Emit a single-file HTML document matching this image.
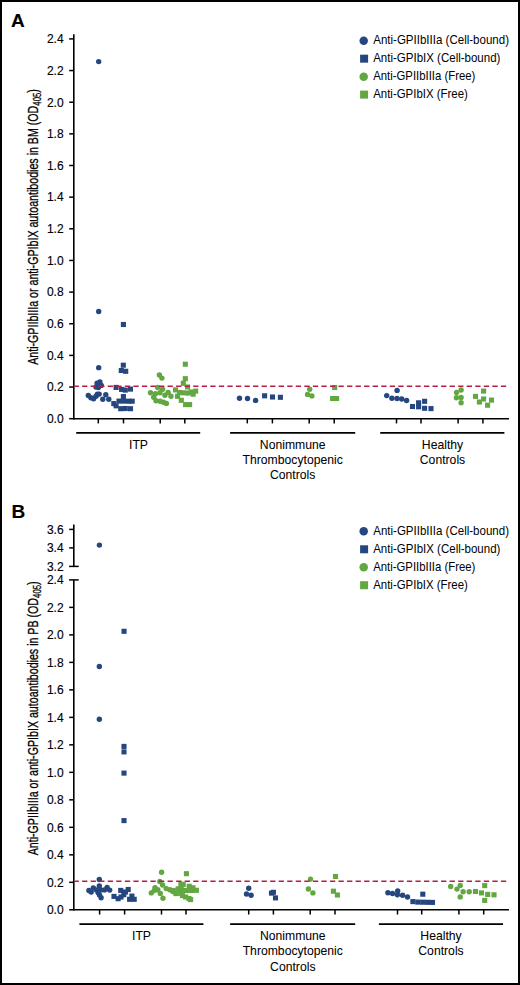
<!DOCTYPE html>
<html><head><meta charset="utf-8"><style>
html,body{margin:0;padding:0;background:#fff;}
svg{display:block;}
text{font-family:"Liberation Sans", sans-serif;fill:#000;stroke:#000;stroke-width:0.15px;}
</style></head><body>
<svg width="520" height="985" viewBox="0 0 520 985">
<rect x="1" y="1" width="518" height="983" fill="#fff" stroke="#000" stroke-width="2"/>

<text x="11" y="26.9" font-size="19" font-weight="bold" fill="#000">A</text>
<text x="11.6" y="517.8" font-size="19" font-weight="bold" fill="#000">B</text>
<line x1="73.8" y1="34.3" x2="73.8" y2="419.4" stroke="#000" stroke-width="1.6"/>
<line x1="69.2" y1="418.70" x2="73.8" y2="418.70" stroke="#000" stroke-width="1.5"/>
<text x="63.6" y="423.00" font-size="12" text-anchor="end">0.0</text>
<line x1="69.2" y1="387.05" x2="73.8" y2="387.05" stroke="#000" stroke-width="1.5"/>
<text x="63.6" y="391.35" font-size="12" text-anchor="end">0.2</text>
<line x1="69.2" y1="355.40" x2="73.8" y2="355.40" stroke="#000" stroke-width="1.5"/>
<text x="63.6" y="359.70" font-size="12" text-anchor="end">0.4</text>
<line x1="69.2" y1="323.75" x2="73.8" y2="323.75" stroke="#000" stroke-width="1.5"/>
<text x="63.6" y="328.05" font-size="12" text-anchor="end">0.6</text>
<line x1="69.2" y1="292.10" x2="73.8" y2="292.10" stroke="#000" stroke-width="1.5"/>
<text x="63.6" y="296.40" font-size="12" text-anchor="end">0.8</text>
<line x1="69.2" y1="260.45" x2="73.8" y2="260.45" stroke="#000" stroke-width="1.5"/>
<text x="63.6" y="264.75" font-size="12" text-anchor="end">1.0</text>
<line x1="69.2" y1="228.80" x2="73.8" y2="228.80" stroke="#000" stroke-width="1.5"/>
<text x="63.6" y="233.10" font-size="12" text-anchor="end">1.2</text>
<line x1="69.2" y1="197.15" x2="73.8" y2="197.15" stroke="#000" stroke-width="1.5"/>
<text x="63.6" y="201.45" font-size="12" text-anchor="end">1.4</text>
<line x1="69.2" y1="165.50" x2="73.8" y2="165.50" stroke="#000" stroke-width="1.5"/>
<text x="63.6" y="169.80" font-size="12" text-anchor="end">1.6</text>
<line x1="69.2" y1="133.85" x2="73.8" y2="133.85" stroke="#000" stroke-width="1.5"/>
<text x="63.6" y="138.15" font-size="12" text-anchor="end">1.8</text>
<line x1="69.2" y1="102.20" x2="73.8" y2="102.20" stroke="#000" stroke-width="1.5"/>
<text x="63.6" y="106.50" font-size="12" text-anchor="end">2.0</text>
<line x1="69.2" y1="70.55" x2="73.8" y2="70.55" stroke="#000" stroke-width="1.5"/>
<text x="63.6" y="74.85" font-size="12" text-anchor="end">2.2</text>
<line x1="69.2" y1="38.90" x2="73.8" y2="38.90" stroke="#000" stroke-width="1.5"/>
<text x="63.6" y="43.20" font-size="12" text-anchor="end">2.4</text>
<line x1="73.8" y1="418.7" x2="509" y2="418.7" stroke="#000" stroke-width="1.6"/>
<line x1="98.3" y1="418.7" x2="98.3" y2="423.4" stroke="#000" stroke-width="1.5"/>
<line x1="123.5" y1="418.7" x2="123.5" y2="423.4" stroke="#000" stroke-width="1.5"/>
<line x1="160.2" y1="418.7" x2="160.2" y2="423.4" stroke="#000" stroke-width="1.5"/>
<line x1="184.8" y1="418.7" x2="184.8" y2="423.4" stroke="#000" stroke-width="1.5"/>
<line x1="247.3" y1="418.7" x2="247.3" y2="423.4" stroke="#000" stroke-width="1.5"/>
<line x1="272.4" y1="418.7" x2="272.4" y2="423.4" stroke="#000" stroke-width="1.5"/>
<line x1="309.2" y1="418.7" x2="309.2" y2="423.4" stroke="#000" stroke-width="1.5"/>
<line x1="334.2" y1="418.7" x2="334.2" y2="423.4" stroke="#000" stroke-width="1.5"/>
<line x1="396.5" y1="418.7" x2="396.5" y2="423.4" stroke="#000" stroke-width="1.5"/>
<line x1="421" y1="418.7" x2="421" y2="423.4" stroke="#000" stroke-width="1.5"/>
<line x1="458.1" y1="418.7" x2="458.1" y2="423.4" stroke="#000" stroke-width="1.5"/>
<line x1="482.9" y1="418.7" x2="482.9" y2="423.4" stroke="#000" stroke-width="1.5"/>
<line x1="76.2" y1="432.9" x2="200.2" y2="432.9" stroke="#000" stroke-width="1.6"/>
<line x1="230.1" y1="432.9" x2="355.2" y2="432.9" stroke="#000" stroke-width="1.6"/>
<line x1="380.2" y1="432.9" x2="504.4" y2="432.9" stroke="#000" stroke-width="1.6"/>
<text x="138.5" y="448.9" font-size="12.2" text-anchor="middle" style="stroke-width:0.05px">ITP</text>
<text x="292.7" y="448.9" font-size="12.2" text-anchor="middle" style="stroke-width:0.05px">Nonimmune</text>
<text x="292.7" y="464.00" font-size="12.2" text-anchor="middle" style="stroke-width:0.05px">Thrombocytopenic</text>
<text x="292.7" y="479.10" font-size="12.2" text-anchor="middle" style="stroke-width:0.05px">Controls</text>
<text x="442.5" y="448.9" font-size="12.2" text-anchor="middle" style="stroke-width:0.05px">Healthy</text>
<text x="442.5" y="464.00" font-size="12.2" text-anchor="middle" style="stroke-width:0.05px">Controls</text>
<circle cx="363.7" cy="40.70" r="4.25" fill="#264680"/>
<text x="373.2" y="44.10" font-size="12.1" textLength="135.8" lengthAdjust="spacingAndGlyphs" style="stroke-width:0">Anti-GPIIbIIIa (Cell-bound)</text>
<rect x="360.1" y="54.67" width="8" height="8" fill="#264680"/>
<text x="373.2" y="62.07" font-size="12.1" textLength="127.2" lengthAdjust="spacingAndGlyphs" style="stroke-width:0">Anti-GPIbIX (Cell-bound)</text>
<circle cx="363.7" cy="76.64" r="4.25" fill="#62a741"/>
<text x="373.2" y="80.04" font-size="12.1" textLength="102.2" lengthAdjust="spacingAndGlyphs" style="stroke-width:0">Anti-GPIIbIIIa (Free)</text>
<rect x="360.1" y="90.61" width="8" height="8" fill="#62a741"/>
<text x="373.2" y="98.01" font-size="12.1" textLength="94.7" lengthAdjust="spacingAndGlyphs" style="stroke-width:0">Anti-GPIbIX (Free)</text>
<text transform="translate(37.6,364.8) rotate(-90) scale(0.71,1)" font-size="15" style="stroke-width:0.3px">Anti-GPIIbIIIa or anti-GPIbIX autoantibodies in BM (OD<tspan font-size="11" dy="3">405</tspan><tspan dy="-3">)</tspan></text>
<line x1="73.8" y1="524.6" x2="73.8" y2="566.4" stroke="#000" stroke-width="1.6"/>
<line x1="69.1" y1="566.4" x2="78.7" y2="566.4" stroke="#000" stroke-width="1.5"/>
<line x1="69.2" y1="529.40" x2="73.8" y2="529.40" stroke="#000" stroke-width="1.5"/>
<text x="63.6" y="533.70" font-size="12" text-anchor="end">3.6</text>
<line x1="69.2" y1="547.90" x2="73.8" y2="547.90" stroke="#000" stroke-width="1.5"/>
<text x="63.6" y="552.20" font-size="12" text-anchor="end">3.4</text>
<text x="63.6" y="570.70" font-size="12" text-anchor="end">3.2</text>
<line x1="73.8" y1="579.9" x2="73.8" y2="910.5" stroke="#000" stroke-width="1.6"/>
<line x1="69.1" y1="579.9" x2="78.7" y2="579.9" stroke="#000" stroke-width="1.5"/>
<line x1="69.2" y1="909.80" x2="73.8" y2="909.80" stroke="#000" stroke-width="1.5"/>
<text x="63.6" y="914.10" font-size="12" text-anchor="end">0.0</text>
<line x1="69.2" y1="882.31" x2="73.8" y2="882.31" stroke="#000" stroke-width="1.5"/>
<text x="63.6" y="886.61" font-size="12" text-anchor="end">0.2</text>
<line x1="69.2" y1="854.82" x2="73.8" y2="854.82" stroke="#000" stroke-width="1.5"/>
<text x="63.6" y="859.12" font-size="12" text-anchor="end">0.4</text>
<line x1="69.2" y1="827.32" x2="73.8" y2="827.32" stroke="#000" stroke-width="1.5"/>
<text x="63.6" y="831.62" font-size="12" text-anchor="end">0.6</text>
<line x1="69.2" y1="799.83" x2="73.8" y2="799.83" stroke="#000" stroke-width="1.5"/>
<text x="63.6" y="804.13" font-size="12" text-anchor="end">0.8</text>
<line x1="69.2" y1="772.34" x2="73.8" y2="772.34" stroke="#000" stroke-width="1.5"/>
<text x="63.6" y="776.64" font-size="12" text-anchor="end">1.0</text>
<line x1="69.2" y1="744.85" x2="73.8" y2="744.85" stroke="#000" stroke-width="1.5"/>
<text x="63.6" y="749.15" font-size="12" text-anchor="end">1.2</text>
<line x1="69.2" y1="717.36" x2="73.8" y2="717.36" stroke="#000" stroke-width="1.5"/>
<text x="63.6" y="721.66" font-size="12" text-anchor="end">1.4</text>
<line x1="69.2" y1="689.86" x2="73.8" y2="689.86" stroke="#000" stroke-width="1.5"/>
<text x="63.6" y="694.16" font-size="12" text-anchor="end">1.6</text>
<line x1="69.2" y1="662.37" x2="73.8" y2="662.37" stroke="#000" stroke-width="1.5"/>
<text x="63.6" y="666.67" font-size="12" text-anchor="end">1.8</text>
<line x1="69.2" y1="634.88" x2="73.8" y2="634.88" stroke="#000" stroke-width="1.5"/>
<text x="63.6" y="639.18" font-size="12" text-anchor="end">2.0</text>
<line x1="69.2" y1="607.39" x2="73.8" y2="607.39" stroke="#000" stroke-width="1.5"/>
<text x="63.6" y="611.69" font-size="12" text-anchor="end">2.2</text>
<text x="63.6" y="584.20" font-size="12" text-anchor="end">2.4</text>
<line x1="73.8" y1="909.8" x2="509" y2="909.8" stroke="#000" stroke-width="1.6"/>
<line x1="99.6" y1="909.8" x2="99.6" y2="914.5" stroke="#000" stroke-width="1.5"/>
<line x1="124.6" y1="909.8" x2="124.6" y2="914.5" stroke="#000" stroke-width="1.5"/>
<line x1="161.5" y1="909.8" x2="161.5" y2="914.5" stroke="#000" stroke-width="1.5"/>
<line x1="186" y1="909.8" x2="186" y2="914.5" stroke="#000" stroke-width="1.5"/>
<line x1="248.7" y1="909.8" x2="248.7" y2="914.5" stroke="#000" stroke-width="1.5"/>
<line x1="273.4" y1="909.8" x2="273.4" y2="914.5" stroke="#000" stroke-width="1.5"/>
<line x1="310.2" y1="909.8" x2="310.2" y2="914.5" stroke="#000" stroke-width="1.5"/>
<line x1="335" y1="909.8" x2="335" y2="914.5" stroke="#000" stroke-width="1.5"/>
<line x1="397.5" y1="909.8" x2="397.5" y2="914.5" stroke="#000" stroke-width="1.5"/>
<line x1="421.7" y1="909.8" x2="421.7" y2="914.5" stroke="#000" stroke-width="1.5"/>
<line x1="458.9" y1="909.8" x2="458.9" y2="914.5" stroke="#000" stroke-width="1.5"/>
<line x1="483.7" y1="909.8" x2="483.7" y2="914.5" stroke="#000" stroke-width="1.5"/>
<line x1="79.4" y1="924.1" x2="203.4" y2="924.1" stroke="#000" stroke-width="1.6"/>
<line x1="230.1" y1="924.1" x2="355.2" y2="924.1" stroke="#000" stroke-width="1.6"/>
<line x1="378.9" y1="924.1" x2="503" y2="924.1" stroke="#000" stroke-width="1.6"/>
<text x="141.5" y="940.1" font-size="12.2" text-anchor="middle" style="stroke-width:0.05px">ITP</text>
<text x="292.8" y="940.1" font-size="12.2" text-anchor="middle" style="stroke-width:0.05px">Nonimmune</text>
<text x="292.8" y="955.40" font-size="12.2" text-anchor="middle" style="stroke-width:0.05px">Thrombocytopenic</text>
<text x="292.8" y="970.70" font-size="12.2" text-anchor="middle" style="stroke-width:0.05px">Controls</text>
<text x="441.0" y="940.1" font-size="12.2" text-anchor="middle" style="stroke-width:0.05px">Healthy</text>
<text x="441.0" y="955.40" font-size="12.2" text-anchor="middle" style="stroke-width:0.05px">Controls</text>
<circle cx="363.7" cy="531.30" r="4.25" fill="#264680"/>
<text x="373.2" y="534.70" font-size="12.1" textLength="135.8" lengthAdjust="spacingAndGlyphs" style="stroke-width:0">Anti-GPIIbIIIa (Cell-bound)</text>
<rect x="360.1" y="545.27" width="8" height="8" fill="#264680"/>
<text x="373.2" y="552.67" font-size="12.1" textLength="127.2" lengthAdjust="spacingAndGlyphs" style="stroke-width:0">Anti-GPIbIX (Cell-bound)</text>
<circle cx="363.7" cy="567.24" r="4.25" fill="#62a741"/>
<text x="373.2" y="570.64" font-size="12.1" textLength="102.2" lengthAdjust="spacingAndGlyphs" style="stroke-width:0">Anti-GPIIbIIIa (Free)</text>
<rect x="360.1" y="581.21" width="8" height="8" fill="#62a741"/>
<text x="373.2" y="588.61" font-size="12.1" textLength="94.7" lengthAdjust="spacingAndGlyphs" style="stroke-width:0">Anti-GPIbIX (Free)</text>
<text transform="translate(37.6,855.3) rotate(-90) scale(0.71,1)" font-size="15" style="stroke-width:0.3px">Anti-GPIIbIIIa or anti-GPIbIX autoantibodies in PB (OD<tspan font-size="11" dy="3">405</tspan><tspan dy="-3">)</tspan></text>
<g>
<circle cx="159.40" cy="375.00" r="2.7" fill="#62a741"/>
<circle cx="161.90" cy="378.10" r="2.7" fill="#62a741"/>
<circle cx="157.70" cy="387.50" r="2.7" fill="#62a741"/>
<circle cx="162.60" cy="389.20" r="2.7" fill="#62a741"/>
<circle cx="150.50" cy="392.70" r="2.7" fill="#62a741"/>
<circle cx="155.40" cy="393.80" r="2.7" fill="#62a741"/>
<circle cx="160.00" cy="392.70" r="2.7" fill="#62a741"/>
<circle cx="164.90" cy="395.30" r="2.7" fill="#62a741"/>
<circle cx="168.10" cy="392.40" r="2.7" fill="#62a741"/>
<circle cx="171.00" cy="396.20" r="2.7" fill="#62a741"/>
<circle cx="153.70" cy="397.30" r="2.7" fill="#62a741"/>
<circle cx="156.00" cy="400.80" r="2.7" fill="#62a741"/>
<circle cx="160.00" cy="401.30" r="2.7" fill="#62a741"/>
<circle cx="163.50" cy="402.20" r="2.7" fill="#62a741"/>
<circle cx="166.40" cy="403.40" r="2.7" fill="#62a741"/>
<circle cx="309.70" cy="389.30" r="2.7" fill="#62a741"/>
<circle cx="307.60" cy="394.40" r="2.7" fill="#62a741"/>
<circle cx="311.90" cy="395.90" r="2.7" fill="#62a741"/>
<circle cx="461.10" cy="390.00" r="2.7" fill="#62a741"/>
<circle cx="456.60" cy="392.40" r="2.7" fill="#62a741"/>
<circle cx="456.40" cy="397.80" r="2.7" fill="#62a741"/>
<circle cx="461.10" cy="397.50" r="2.7" fill="#62a741"/>
<circle cx="461.10" cy="402.70" r="2.7" fill="#62a741"/>
<circle cx="161.60" cy="872.20" r="2.7" fill="#62a741"/>
<circle cx="159.80" cy="881.50" r="2.7" fill="#62a741"/>
<circle cx="162.60" cy="885.00" r="2.7" fill="#62a741"/>
<circle cx="155.00" cy="887.60" r="2.7" fill="#62a741"/>
<circle cx="157.80" cy="889.80" r="2.7" fill="#62a741"/>
<circle cx="160.30" cy="893.40" r="2.7" fill="#62a741"/>
<circle cx="163.00" cy="898.20" r="2.7" fill="#62a741"/>
<circle cx="151.30" cy="892.90" r="2.7" fill="#62a741"/>
<circle cx="154.20" cy="890.60" r="2.7" fill="#62a741"/>
<circle cx="166.20" cy="888.60" r="2.7" fill="#62a741"/>
<circle cx="169.80" cy="889.80" r="2.7" fill="#62a741"/>
<circle cx="172.80" cy="891.60" r="2.7" fill="#62a741"/>
<circle cx="310.50" cy="879.10" r="2.7" fill="#62a741"/>
<circle cx="308.40" cy="889.00" r="2.7" fill="#62a741"/>
<circle cx="312.90" cy="892.90" r="2.7" fill="#62a741"/>
<circle cx="450.70" cy="886.50" r="2.7" fill="#62a741"/>
<circle cx="460.20" cy="885.40" r="2.7" fill="#62a741"/>
<circle cx="457.00" cy="889.10" r="2.7" fill="#62a741"/>
<circle cx="463.10" cy="891.70" r="2.7" fill="#62a741"/>
<circle cx="469.20" cy="891.70" r="2.7" fill="#62a741"/>
<circle cx="460.20" cy="896.90" r="2.7" fill="#62a741"/>
<rect x="182.75" y="361.65" width="5.1" height="5.1" fill="#62a741"/>
<rect x="182.75" y="376.15" width="5.1" height="5.1" fill="#62a741"/>
<rect x="180.75" y="380.75" width="5.1" height="5.1" fill="#62a741"/>
<rect x="185.05" y="384.45" width="5.1" height="5.1" fill="#62a741"/>
<rect x="172.95" y="387.35" width="5.1" height="5.1" fill="#62a741"/>
<rect x="176.95" y="389.95" width="5.1" height="5.1" fill="#62a741"/>
<rect x="180.75" y="390.25" width="5.1" height="5.1" fill="#62a741"/>
<rect x="185.35" y="390.55" width="5.1" height="5.1" fill="#62a741"/>
<rect x="193.15" y="388.55" width="5.1" height="5.1" fill="#62a741"/>
<rect x="190.55" y="391.65" width="5.1" height="5.1" fill="#62a741"/>
<rect x="188.45" y="389.45" width="5.1" height="5.1" fill="#62a741"/>
<rect x="174.95" y="393.75" width="5.1" height="5.1" fill="#62a741"/>
<rect x="178.75" y="397.75" width="5.1" height="5.1" fill="#62a741"/>
<rect x="183.05" y="402.05" width="5.1" height="5.1" fill="#62a741"/>
<rect x="187.05" y="402.05" width="5.1" height="5.1" fill="#62a741"/>
<rect x="332.15" y="384.95" width="5.1" height="5.1" fill="#62a741"/>
<rect x="330.05" y="395.95" width="5.1" height="5.1" fill="#62a741"/>
<rect x="334.05" y="395.95" width="5.1" height="5.1" fill="#62a741"/>
<rect x="481.05" y="388.55" width="5.1" height="5.1" fill="#62a741"/>
<rect x="472.95" y="393.85" width="5.1" height="5.1" fill="#62a741"/>
<rect x="481.05" y="396.45" width="5.1" height="5.1" fill="#62a741"/>
<rect x="488.95" y="397.55" width="5.1" height="5.1" fill="#62a741"/>
<rect x="476.85" y="399.45" width="5.1" height="5.1" fill="#62a741"/>
<rect x="485.05" y="402.65" width="5.1" height="5.1" fill="#62a741"/>
<rect x="183.85" y="871.15" width="5.1" height="5.1" fill="#62a741"/>
<rect x="178.35" y="881.65" width="5.1" height="5.1" fill="#62a741"/>
<rect x="180.65" y="881.95" width="5.1" height="5.1" fill="#62a741"/>
<rect x="175.65" y="886.25" width="5.1" height="5.1" fill="#62a741"/>
<rect x="178.65" y="885.95" width="5.1" height="5.1" fill="#62a741"/>
<rect x="186.65" y="883.75" width="5.1" height="5.1" fill="#62a741"/>
<rect x="190.45" y="885.25" width="5.1" height="5.1" fill="#62a741"/>
<rect x="193.85" y="887.75" width="5.1" height="5.1" fill="#62a741"/>
<rect x="182.45" y="887.95" width="5.1" height="5.1" fill="#62a741"/>
<rect x="185.95" y="887.95" width="5.1" height="5.1" fill="#62a741"/>
<rect x="189.45" y="887.95" width="5.1" height="5.1" fill="#62a741"/>
<rect x="170.75" y="887.85" width="5.1" height="5.1" fill="#62a741"/>
<rect x="173.35" y="891.05" width="5.1" height="5.1" fill="#62a741"/>
<rect x="178.05" y="890.75" width="5.1" height="5.1" fill="#62a741"/>
<rect x="179.85" y="893.05" width="5.1" height="5.1" fill="#62a741"/>
<rect x="183.05" y="894.45" width="5.1" height="5.1" fill="#62a741"/>
<rect x="186.45" y="895.95" width="5.1" height="5.1" fill="#62a741"/>
<rect x="188.05" y="897.05" width="5.1" height="5.1" fill="#62a741"/>
<rect x="332.95" y="873.95" width="5.1" height="5.1" fill="#62a741"/>
<rect x="330.85" y="888.65" width="5.1" height="5.1" fill="#62a741"/>
<rect x="334.85" y="892.45" width="5.1" height="5.1" fill="#62a741"/>
<rect x="472.95" y="888.95" width="5.1" height="5.1" fill="#62a741"/>
<rect x="478.95" y="890.35" width="5.1" height="5.1" fill="#62a741"/>
<rect x="482.15" y="883.05" width="5.1" height="5.1" fill="#62a741"/>
<rect x="485.15" y="891.85" width="5.1" height="5.1" fill="#62a741"/>
<rect x="491.45" y="892.25" width="5.1" height="5.1" fill="#62a741"/>
<rect x="482.15" y="897.85" width="5.1" height="5.1" fill="#62a741"/>
<circle cx="98.70" cy="61.60" r="2.7" fill="#264680"/>
<circle cx="98.70" cy="311.50" r="2.7" fill="#264680"/>
<circle cx="98.70" cy="367.65" r="2.7" fill="#264680"/>
<circle cx="99.90" cy="381.90" r="2.7" fill="#264680"/>
<circle cx="97.10" cy="383.10" r="2.7" fill="#264680"/>
<circle cx="101.30" cy="385.40" r="2.7" fill="#264680"/>
<circle cx="96.00" cy="387.00" r="2.7" fill="#264680"/>
<circle cx="98.40" cy="387.50" r="2.7" fill="#264680"/>
<circle cx="88.30" cy="395.50" r="2.7" fill="#264680"/>
<circle cx="90.90" cy="397.70" r="2.7" fill="#264680"/>
<circle cx="93.60" cy="398.70" r="2.7" fill="#264680"/>
<circle cx="96.00" cy="396.30" r="2.7" fill="#264680"/>
<circle cx="97.40" cy="394.30" r="2.7" fill="#264680"/>
<circle cx="99.20" cy="394.10" r="2.7" fill="#264680"/>
<circle cx="105.80" cy="394.80" r="2.7" fill="#264680"/>
<circle cx="102.80" cy="399.20" r="2.7" fill="#264680"/>
<circle cx="108.80" cy="399.20" r="2.7" fill="#264680"/>
<circle cx="239.50" cy="398.30" r="2.7" fill="#264680"/>
<circle cx="247.50" cy="398.50" r="2.7" fill="#264680"/>
<circle cx="255.60" cy="400.40" r="2.7" fill="#264680"/>
<circle cx="397.10" cy="390.40" r="2.7" fill="#264680"/>
<circle cx="386.70" cy="395.60" r="2.7" fill="#264680"/>
<circle cx="391.90" cy="398.20" r="2.7" fill="#264680"/>
<circle cx="397.00" cy="398.50" r="2.7" fill="#264680"/>
<circle cx="401.70" cy="399.00" r="2.7" fill="#264680"/>
<circle cx="406.60" cy="400.50" r="2.7" fill="#264680"/>
<circle cx="99.40" cy="545.10" r="2.7" fill="#264680"/>
<circle cx="99.35" cy="666.50" r="2.7" fill="#264680"/>
<circle cx="99.35" cy="719.30" r="2.7" fill="#264680"/>
<circle cx="99.30" cy="879.50" r="2.7" fill="#264680"/>
<circle cx="99.50" cy="895.00" r="2.7" fill="#264680"/>
<circle cx="88.90" cy="890.50" r="2.7" fill="#264680"/>
<circle cx="91.20" cy="892.00" r="2.7" fill="#264680"/>
<circle cx="93.30" cy="887.90" r="2.7" fill="#264680"/>
<circle cx="99.30" cy="885.90" r="2.7" fill="#264680"/>
<circle cx="96.40" cy="889.90" r="2.7" fill="#264680"/>
<circle cx="98.20" cy="892.80" r="2.7" fill="#264680"/>
<circle cx="101.10" cy="897.70" r="2.7" fill="#264680"/>
<circle cx="101.00" cy="889.90" r="2.7" fill="#264680"/>
<circle cx="104.50" cy="889.90" r="2.7" fill="#264680"/>
<circle cx="107.10" cy="887.50" r="2.7" fill="#264680"/>
<circle cx="109.70" cy="890.10" r="2.7" fill="#264680"/>
<circle cx="248.70" cy="888.30" r="2.7" fill="#264680"/>
<circle cx="246.50" cy="894.00" r="2.7" fill="#264680"/>
<circle cx="251.10" cy="895.20" r="2.7" fill="#264680"/>
<circle cx="387.90" cy="892.70" r="2.7" fill="#264680"/>
<circle cx="392.50" cy="893.50" r="2.7" fill="#264680"/>
<circle cx="397.70" cy="890.90" r="2.7" fill="#264680"/>
<circle cx="397.40" cy="894.70" r="2.7" fill="#264680"/>
<circle cx="402.60" cy="895.30" r="2.7" fill="#264680"/>
<circle cx="407.50" cy="897.00" r="2.7" fill="#264680"/>
<rect x="120.85" y="321.95" width="5.1" height="5.1" fill="#264680"/>
<rect x="120.75" y="362.65" width="5.1" height="5.1" fill="#264680"/>
<rect x="118.75" y="367.95" width="5.1" height="5.1" fill="#264680"/>
<rect x="123.15" y="368.75" width="5.1" height="5.1" fill="#264680"/>
<rect x="113.55" y="384.85" width="5.1" height="5.1" fill="#264680"/>
<rect x="119.05" y="386.85" width="5.1" height="5.1" fill="#264680"/>
<rect x="122.75" y="387.55" width="5.1" height="5.1" fill="#264680"/>
<rect x="127.95" y="386.55" width="5.1" height="5.1" fill="#264680"/>
<rect x="120.85" y="394.05" width="5.1" height="5.1" fill="#264680"/>
<rect x="116.45" y="398.55" width="5.1" height="5.1" fill="#264680"/>
<rect x="121.05" y="398.55" width="5.1" height="5.1" fill="#264680"/>
<rect x="125.95" y="398.65" width="5.1" height="5.1" fill="#264680"/>
<rect x="129.65" y="398.65" width="5.1" height="5.1" fill="#264680"/>
<rect x="111.25" y="401.05" width="5.1" height="5.1" fill="#264680"/>
<rect x="113.55" y="403.25" width="5.1" height="5.1" fill="#264680"/>
<rect x="118.15" y="406.15" width="5.1" height="5.1" fill="#264680"/>
<rect x="122.75" y="405.95" width="5.1" height="5.1" fill="#264680"/>
<rect x="127.95" y="406.15" width="5.1" height="5.1" fill="#264680"/>
<rect x="262.05" y="393.25" width="5.1" height="5.1" fill="#264680"/>
<rect x="269.95" y="394.45" width="5.1" height="5.1" fill="#264680"/>
<rect x="277.85" y="394.75" width="5.1" height="5.1" fill="#264680"/>
<rect x="409.95" y="403.95" width="5.1" height="5.1" fill="#264680"/>
<rect x="416.05" y="400.25" width="5.1" height="5.1" fill="#264680"/>
<rect x="416.05" y="404.25" width="5.1" height="5.1" fill="#264680"/>
<rect x="422.05" y="398.75" width="5.1" height="5.1" fill="#264680"/>
<rect x="422.05" y="405.75" width="5.1" height="5.1" fill="#264680"/>
<rect x="428.45" y="406.05" width="5.1" height="5.1" fill="#264680"/>
<rect x="121.50" y="628.75" width="5.1" height="5.1" fill="#264680"/>
<rect x="121.45" y="743.85" width="5.1" height="5.1" fill="#264680"/>
<rect x="121.45" y="749.35" width="5.1" height="5.1" fill="#264680"/>
<rect x="121.45" y="770.55" width="5.1" height="5.1" fill="#264680"/>
<rect x="121.45" y="818.05" width="5.1" height="5.1" fill="#264680"/>
<rect x="118.15" y="887.85" width="5.1" height="5.1" fill="#264680"/>
<rect x="125.65" y="886.95" width="5.1" height="5.1" fill="#264680"/>
<rect x="111.45" y="893.85" width="5.1" height="5.1" fill="#264680"/>
<rect x="115.55" y="896.15" width="5.1" height="5.1" fill="#264680"/>
<rect x="121.25" y="892.15" width="5.1" height="5.1" fill="#264680"/>
<rect x="122.95" y="889.45" width="5.1" height="5.1" fill="#264680"/>
<rect x="118.45" y="894.45" width="5.1" height="5.1" fill="#264680"/>
<rect x="129.35" y="893.55" width="5.1" height="5.1" fill="#264680"/>
<rect x="127.05" y="896.75" width="5.1" height="5.1" fill="#264680"/>
<rect x="131.65" y="896.75" width="5.1" height="5.1" fill="#264680"/>
<rect x="268.95" y="890.55" width="5.1" height="5.1" fill="#264680"/>
<rect x="270.85" y="889.75" width="5.1" height="5.1" fill="#264680"/>
<rect x="272.95" y="895.35" width="5.1" height="5.1" fill="#264680"/>
<rect x="420.25" y="891.65" width="5.1" height="5.1" fill="#264680"/>
<rect x="410.35" y="899.05" width="5.1" height="5.1" fill="#264680"/>
<rect x="415.25" y="899.55" width="5.1" height="5.1" fill="#264680"/>
<rect x="420.15" y="899.65" width="5.1" height="5.1" fill="#264680"/>
<rect x="425.05" y="899.75" width="5.1" height="5.1" fill="#264680"/>
<rect x="429.95" y="899.85" width="5.1" height="5.1" fill="#264680"/>
</g>
<line x1="74.4" y1="386.2" stroke-dashoffset="0.86" x2="506.3" y2="386.2" stroke="#b81e45" stroke-width="1.5" stroke-dasharray="5.3 3.247"/>
<line x1="74.4" y1="881.2" stroke-dashoffset="0.86" x2="506.3" y2="881.2" stroke="#b81e45" stroke-width="1.5" stroke-dasharray="5.3 3.247"/>
</svg></body></html>
